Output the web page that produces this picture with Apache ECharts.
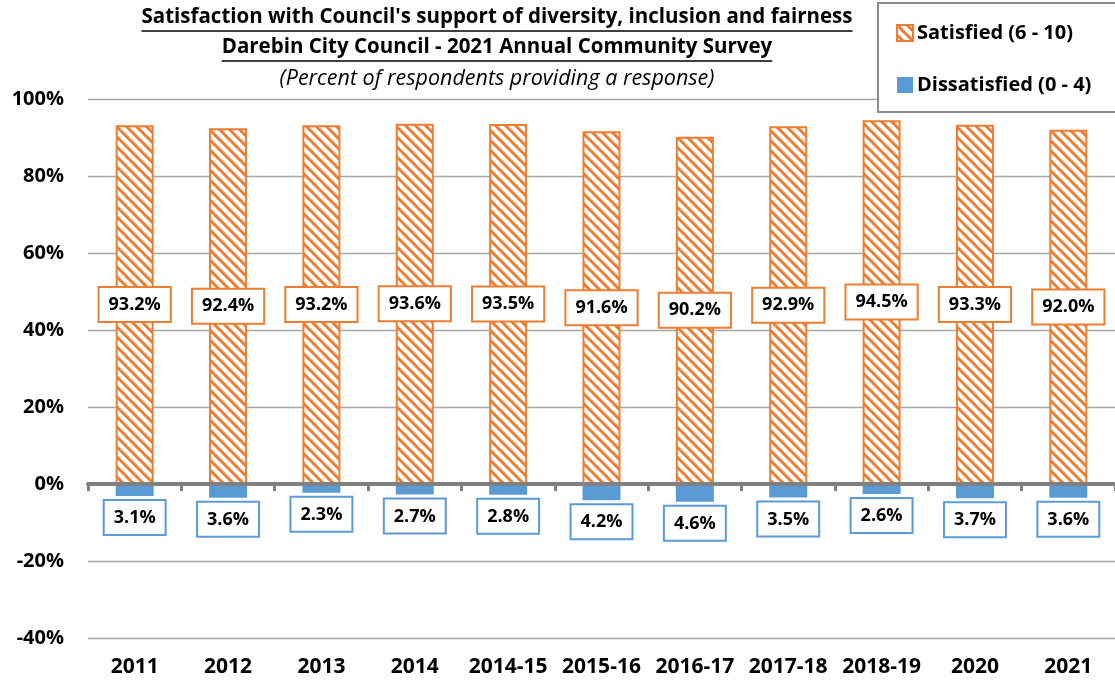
<!DOCTYPE html>
<html>
<head>
<meta charset="utf-8">
<script src="https://cdn.jsdelivr.net/npm/echarts@6/dist/echarts.min.js"></script>
<style>
  html, body { margin: 0; padding: 0; background: #fff; }
  #chart { width: 1115px; height: 684px; }
</style>
</head>
<body>
<div id="chart"></div>
<script>
// Survey periods
const categories = ['2011', '2012', '2013', '2014', '2014-15', '2015-16', '2016-17', '2017-18', '2018-19', '2020', '2021'];
// Percent satisfied (6 - 10)
const satisfied = [93.2, 92.4, 93.2, 93.6, 93.5, 91.6, 90.2, 92.9, 94.5, 93.3, 92.0];
// Percent dissatisfied (0 - 4), drawn below zero
const dissatisfied = [3.1, 3.6, 2.3, 2.7, 2.8, 4.2, 4.6, 3.5, 2.6, 3.7, 3.6];
// Value axis tick range
const yTicks = { min: -40, max: 100, interval: 20 };

const titleLines = [
  "Satisfaction with Council's support of diversity, inclusion and fairness",
  'Darebin City Council - 2021 Annual Community Survey',
  '(Percent of respondents providing a response)'
];

const ORANGE = '#ED7D31';
const BLUE = '#5B9BD5';
const FONT = '"Open Sans", "DejaVu Sans", sans-serif';

// Diagonal hatch fill for the satisfied bars
function hatch() {
  const s = 10;
  const c = document.createElement('canvas');
  c.width = s; c.height = s;
  const g = c.getContext('2d');
  g.fillStyle = '#fff';
  g.fillRect(0, 0, s, s);
  g.strokeStyle = ORANGE;
  g.lineWidth = 3;
  g.beginPath();
  for (let k = -1; k <= 1; k++) {
    g.moveTo(k * s - 1, -1);
    g.lineTo(k * s + s + 1, s + 1);
  }
  g.stroke();
  return { image: c, repeat: 'repeat' };
}

function textWidth(txt, font) {
  const g = document.createElement('canvas').getContext('2d');
  g.font = font;
  return g.measureText(txt).width;
}

const chart = echarts.init(document.getElementById('chart'));

const centerX = 497;
const titleSize = 20.5;
const titleY = [7, 37];
const underlines = titleY.map((y, i) => {
  const w = textWidth(titleLines[i], 'bold ' + titleSize + 'px ' + FONT);
  return {
    type: 'line',
    shape: { x1: centerX - w / 2, y1: y + 24, x2: centerX + w / 2, y2: y + 24 },
    style: { stroke: '#000', lineWidth: 1.3 },
    z: 10
  };
});

const pct = p => Math.abs(p.value).toFixed(1) + '%';

const titleStyle = { fontSize: titleSize, fontWeight: 'bold', color: '#000', fontFamily: FONT };

chart.setOption({
  animation: false,
  backgroundColor: '#fff',
  textStyle: { fontFamily: FONT },
  title: [
    { text: titleLines[0], left: centerX, top: titleY[0], textAlign: 'center', padding: 0, textStyle: titleStyle },
    { text: titleLines[1], left: centerX, top: titleY[1], textAlign: 'center', padding: 0, textStyle: titleStyle },
    { text: titleLines[2], left: centerX, top: 68, textAlign: 'center', padding: 0,
      textStyle: { fontSize: 21.5, fontWeight: 'normal', fontStyle: 'italic', color: '#000', fontFamily: FONT } }
  ],
  graphic: underlines,
  legend: {
    orient: 'vertical',
    left: 878,
    top: 3,
    padding: [20, 60, 17, 18],
    itemGap: 32,
    itemWidth: 16,
    itemHeight: 16,
    backgroundColor: '#fff',
    borderColor: '#8c8c8c',
    borderWidth: 2,
    textStyle: { fontSize: 20, fontWeight: 'bold', color: '#000', fontFamily: FONT, padding: [0, 0, 0, -1] },
    data: [
      { name: 'Satisfied (6 - 10)', icon: 'rect' },
      { name: 'Dissatisfied (0 - 4)', icon: 'rect' }
    ]
  },
  grid: { left: 88, right: 0, top: 99, bottom: 46, containLabel: false, outerBoundsMode: 'none' },
  xAxis: [
    {
      // category labels along the bottom edge
      type: 'category',
      data: categories,
      position: 'bottom',
      axisLine: { show: false, onZero: false },
      axisTick: { show: false },
      axisLabel: { interval: 0, hideOverlap: false, fontSize: 21, fontWeight: 'bold', color: '#000', margin: 19, fontFamily: FONT }
    },
    {
      // zero baseline with boundary ticks
      type: 'category',
      data: categories,
      position: 'bottom',
      axisLine: { onZero: true, lineStyle: { color: '#808080', width: 4 } },
      axisTick: { show: true, interval: 0, length: 7, lineStyle: { color: '#808080', width: 3 } },
      axisLabel: { show: false },
      z: 5
    }
  ],
  yAxis: {
    type: 'value',
    min: yTicks.min,
    max: yTicks.max,
    interval: yTicks.interval,
    axisLine: { show: false },
    axisTick: { show: false },
    splitLine: { lineStyle: { color: '#a6a6a6', width: 1.3 } },
    axisLabel: { formatter: '{value}%', fontSize: 20, fontWeight: 'bold', color: '#000', margin: 24, fontFamily: FONT }
  },
  series: [
    {
      name: 'Satisfied (6 - 10)',
      type: 'bar',
      xAxisIndex: 0,
      data: satisfied,
      barWidth: 38,
      barGap: '-100%',
      itemStyle: { color: hatch(), borderColor: ORANGE, borderWidth: 2 },
      label: {
        show: true,
        position: 'inside',
        formatter: pct,
        fontSize: 18,
        fontWeight: 'bold',
        color: '#000',
        fontFamily: FONT,
        backgroundColor: '#fff',
        borderColor: ORANGE,
        borderWidth: 2,
        padding: [8, 9, 7, 9]
      },
      z: 3
    },
    {
      name: 'Dissatisfied (0 - 4)',
      type: 'bar',
      xAxisIndex: 0,
      data: dissatisfied.map(v => -v),
      barWidth: 38,
      barGap: '-100%',
      itemStyle: { color: BLUE },
      label: {
        show: true,
        position: 'bottom',
        distance: 5,
        formatter: pct,
        fontSize: 18,
        fontWeight: 'bold',
        color: '#000',
        fontFamily: FONT,
        backgroundColor: '#fff',
        borderColor: BLUE,
        borderWidth: 2,
        padding: [8, 9, 7, 9]
      },
      z: 3
    }
  ]
});
</script>
</body>
</html>
